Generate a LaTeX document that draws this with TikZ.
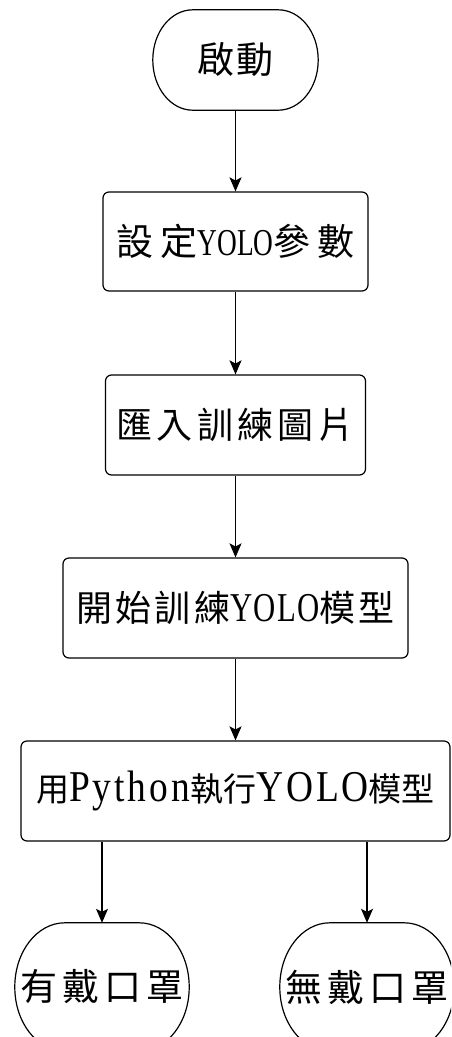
\documentclass[tikz,border=0pt]{standalone}
\usepackage{fontspec}
\usepackage{graphicx}
\setmainfont{Liberation Serif}
\newfontfamily\cjk{Noto Sans CJK TC}
\newfontfamily\lat{Liberation Serif}
\usetikzlibrary{arrows.meta,calc}
% CJK text: size, letter space (percent), text
\newcommand\Cj[3]{{\cjk\addfontfeatures{LetterSpace=#2}\fontsize{#1}{#1}\selectfont #3}}
% Latin text: size, letter space, horizontal scale, text
\newcommand\La[4]{\scalebox{#3}[1]{\lat\addfontfeatures{LetterSpace=#2}\fontsize{#1}{#1}\selectfont #4}}
% terminator outline with elliptical ends: node name, rx, ry
\newcommand\termshape[3]{%
  \draw[outline] ([xshift=#2]#1.north west) -- ([xshift=-#2]#1.north east)
    arc[start angle=90,end angle=0,x radius=#2,y radius=#3]
    -- ([yshift=#3]#1.south east)
    arc[start angle=0,end angle=-90,x radius=#2,y radius=#3]
    -- ([xshift=#2]#1.south west)
    arc[start angle=270,end angle=180,x radius=#2,y radius=#3]
    -- ([yshift=-#3]#1.north west)
    arc[start angle=180,end angle=90,x radius=#2,y radius=#3] -- cycle;}
\tikzset{
  outline/.style={line width=1.2pt},
  box/.style={draw, line width=1.2pt, rounded corners=6pt, inner sep=0pt, align=center},
  term/.style={inner sep=0pt, align=center},
  arr/.style={-{Stealth[length=14pt,width=12pt,inset=3pt]}, line width=1.2pt},
}
\begin{document}
\begin{tikzpicture}[x=1pt,y=1pt]
\clip (0,0) rectangle (451,-1037);
\fill[white] (0,0) rectangle (451,-1037);
\node[term, minimum width=165pt, minimum height=100pt] (start) at (235.5,-60) {\Cj{37}{8}{啟動}};
\termshape{start}{40pt}{50pt}
\node[box, minimum width=265pt, minimum height=99pt] (set) at (235.5,-241.5) {\Cj{37}{18}{設定}\La{38}{0}{0.72}{YOLO}\Cj{37}{18}{參數}};
\node[box, minimum width=260pt, minimum height=100pt] (imp) at (235.5,-425) {\Cj{36}{12}{匯入訓練圖片}};
\node[box, minimum width=345pt, minimum height=100pt] (train) at (235.5,-608) {\Cj{36}{9}{開始訓練}\La{41}{4}{0.75}{YOLO}\Cj{36}{9}{模型}};
\node[box, minimum width=429pt, minimum height=100pt] (run) at (235.5,-791) {\Cj{33}{0}{用}\La{44}{8}{0.85}{Python}\Cj{33}{0}{執行}\La{44}{8}{0.85}{YOLO}\Cj{33}{0}{模型}};
\node[term, minimum width=174pt, minimum height=128pt] (yes) at (102,-987) {\Cj{37}{14}{有戴口罩}};
\termshape{yes}{50pt}{64pt}
\node[term, minimum width=174pt, minimum height=128pt] (no) at (367,-987) {\Cj{37}{14}{無戴口罩}};
\termshape{no}{50pt}{64pt}
\draw[arr] (start) -- (set);
\draw[arr] (set) -- (imp);
\draw[arr] (imp) -- (train);
\draw[arr] (train) -- (run);
\draw[arr] (run.south -| yes.north) -- (yes.north);
\draw[arr] (run.south -| no.north) -- (no.north);
\end{tikzpicture}
\end{document}
